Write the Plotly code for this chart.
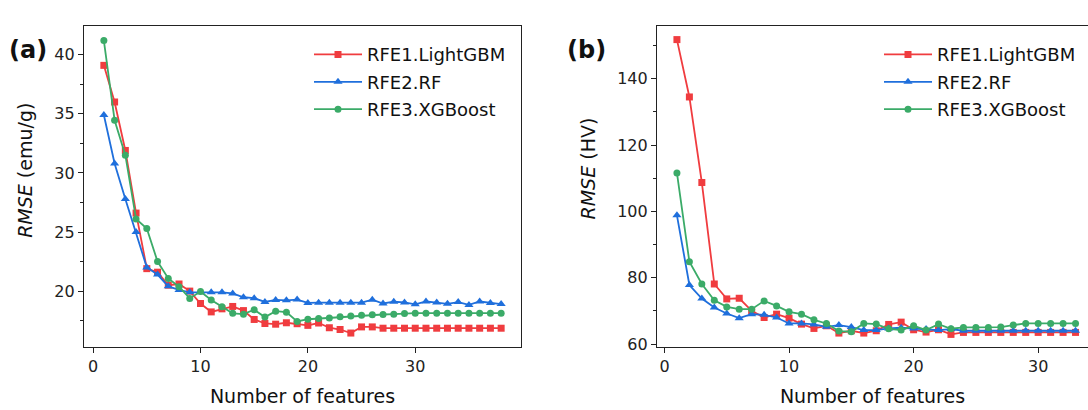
import plotly.graph_objects as go

# ---- data ----
features_a = list(range(1, 39))
lgbm_a = [39.1, 36.0, 31.9, 26.6, 21.9, 21.6, 20.5, 20.6, 20.0, 18.95, 18.24, 18.5, 18.7, 18.35,
          17.6, 17.26, 17.2, 17.32, 17.24, 17.1, 17.3, 16.9, 16.75, 16.45, 16.97, 16.97, 16.86,
          16.86, 16.86, 16.86, 16.86, 16.86, 16.86, 16.86, 16.86, 16.86, 16.86, 16.86]
rf_a = [34.9, 30.8, 27.8, 25.0, 22.0, 21.4, 20.4, 20.1, 19.9, 19.9, 19.9, 19.9, 19.8, 19.48,
        19.4, 19.08, 19.25, 19.22, 19.28, 19.0, 19.02, 19.02, 19.02, 19.02, 19.02, 19.27, 18.95,
        19.1, 19.04, 18.88, 19.12, 19.03, 18.92, 19.07, 18.83, 19.12, 19.0, 18.9]
xgb_a = [41.2, 34.46, 31.5, 26.1, 25.3, 22.5, 21.07, 20.37, 19.38, 19.96, 19.24, 18.67, 18.12,
         18.05, 18.42, 17.8, 18.3, 18.22, 17.43, 17.62, 17.68, 17.73, 17.82, 17.9, 17.96, 18.0,
         18.02, 18.05, 18.1, 18.13, 18.13, 18.13, 18.13, 18.13, 18.13, 18.13, 18.13, 18.13]

features_b = list(range(1, 34))
lgbm_b = [151.8, 134.5, 108.7, 78.1, 73.6, 73.8, 70.0, 68.0, 69.0, 67.8, 66.0, 64.7, 65.5, 63.3,
          64.0, 63.3, 64.0, 65.9, 66.6, 64.3, 63.6, 64.3, 62.9, 63.5, 63.5, 63.5, 63.5, 63.5,
          63.5, 63.5, 63.5, 63.5, 63.5]
rf_b = [98.8, 77.8, 73.7, 71.0, 69.2, 67.8, 69.0, 68.8, 68.0, 66.2, 66.2, 65.9, 65.2, 65.7,
        65.1, 64.2, 64.2, 64.7, 64.9, 64.7, 64.5, 64.2, 64.5, 64.0, 64.0, 64.0, 64.0, 64.0,
        64.0, 64.0, 64.0, 64.0, 64.0]
xgb_b = [111.6, 84.8, 78.1, 73.2, 71.2, 70.5, 70.5, 73.0, 71.5, 69.7, 69.0, 67.3, 66.2, 63.9,
         63.7, 66.2, 66.0, 64.6, 64.2, 65.5, 64.2, 66.0, 64.6, 65.0, 65.0, 65.0, 65.1, 65.7,
         66.2, 66.2, 66.2, 66.2, 66.2]

names = ["RFE1.LightGBM", "RFE2.RF", "RFE3.XGBoost"]
colors = ["#f03c3f", "#1f6fdc", "#3bab68"]
symbols = ["square", "triangle-up", "circle"]
msizes = [7, 8, 7]

W, H = 1088, 410
FONT = "DejaVu Sans"

fig = go.Figure()

series_a = [lgbm_a, rf_a, xgb_a]
series_b = [lgbm_b, rf_b, xgb_b]
for i in range(3):
    fig.add_trace(go.Scatter(
        x=features_a, y=series_a[i], name=names[i], mode="lines+markers",
        line=dict(color=colors[i], width=1.8),
        marker=dict(symbol=symbols[i], size=msizes[i], color=colors[i]),
        xaxis="x", yaxis="y", legend="legend", legendgroup="a%d" % i))
for i in range(3):
    fig.add_trace(go.Scatter(
        x=features_b, y=series_b[i], name=names[i], mode="lines+markers",
        line=dict(color=colors[i], width=1.8),
        marker=dict(symbol=symbols[i], size=msizes[i], color=colors[i]),
        xaxis="x2", yaxis="y2", legend="legend2", legendgroup="b%d" % i))

axis_common = dict(showline=True, linecolor="#222", linewidth=1.2, ticks="outside",
                   ticklen=5, tickwidth=1.2, tickcolor="#222", showgrid=False, zeroline=False,
                   tickfont=dict(family=FONT, size=16, color="#222"))

fig.update_layout(
    width=W, height=H,
    paper_bgcolor="white", plot_bgcolor="white",
    margin=dict(l=0, r=0, t=26, b=63),
    showlegend=True,
    xaxis=dict(domain=[84 / W, 521 / W], range=[-0.85, 39.85], tickvals=[0, 10, 20, 30],
               mirror=True, anchor="y",
               title=dict(text="Number of features", font=dict(family=FONT, size=19, color="#111"),
                          standoff=14),
               **axis_common),
    yaxis=dict(domain=[0, 1], range=[15.27, 42.43], tickvals=[20, 25, 30, 35, 40], mirror=True,
               anchor="x",
               minor=dict(dtick=2.5, tick0=0, ticks="outside", ticklen=3, tickcolor="#222",
                          showgrid=False),
               **axis_common),
    xaxis2=dict(domain=[657 / W, 1.0], range=[-0.6, 34.0], tickvals=[0, 10, 20, 30],
                mirror=True, anchor="y2",
                title=dict(text="Number of features", font=dict(family=FONT, size=19, color="#111"),
                           standoff=14),
                **axis_common),
    yaxis2=dict(domain=[0, 1], range=[59.1, 155.9], tickvals=[60, 80, 100, 120, 140],
                mirror=False, anchor="x2",
                minor=dict(dtick=10, tick0=0, ticks="outside", ticklen=3, tickcolor="#222",
                           showgrid=False),
                **axis_common),
    legend=dict(x=309 / W, y=1 - 13 / H, xanchor="left", yanchor="top",
                font=dict(family=FONT, size=18, color="#111"), bgcolor="rgba(0,0,0,0)",
                itemwidth=48, tracegroupgap=1, traceorder="grouped"),
    legend2=dict(x=879 / W, y=1 - 13 / H, xanchor="left", yanchor="top",
                 font=dict(family=FONT, size=18, color="#111"), bgcolor="rgba(0,0,0,0)",
                 itemwidth=48, tracegroupgap=1, traceorder="grouped"),
)

annotations = [
    dict(text="<b>(a)</b>", x=28 / W, y=1 - 31 / H, xref="paper", yref="paper",
         showarrow=False, font=dict(family=FONT, size=24, color="#111"),
         xanchor="center", yanchor="middle"),
    dict(text="<b>(b)</b>", x=586 / W, y=1 - 31 / H, xref="paper", yref="paper",
         showarrow=False, font=dict(family=FONT, size=24, color="#111"),
         xanchor="center", yanchor="middle"),
    dict(text="<i>RMSE</i> (emu/g)", x=25 / W, y=1 - 185 / H, xref="paper", yref="paper",
         showarrow=False, textangle=-90, font=dict(family=FONT, size=19, color="#111"),
         xanchor="center", yanchor="middle"),
    dict(text="<i>RMSE</i> (HV)", x=588 / W, y=1 - 182 / H, xref="paper", yref="paper",
         showarrow=False, textangle=-90, font=dict(family=FONT, size=19, color="#111"),
         xanchor="center", yanchor="middle"),
]
fig.update_layout(annotations=annotations)

fig.write_html("out.html", config={"displayModeBar": False},
               post_script="document.body.style.margin='0';")
